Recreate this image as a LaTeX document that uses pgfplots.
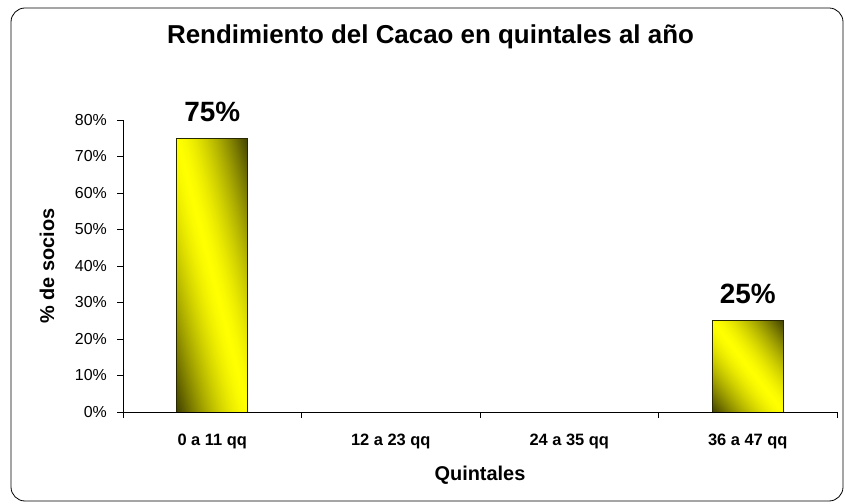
\documentclass[border=0pt]{standalone}
\usepackage{fontspec}
\setmainfont{Liberation Sans}
\usepackage{pgfplots}
\pgfplotsset{compat=1.18}
\definecolor{barEdge}{RGB}{40,40,0}
% diagonal shading: dark at bottom-left and top-right corners, bright yellow along the other diagonal
\pgfdeclarefunctionalshading{cacaobar}{\pgfpoint{0bp}{0bp}}{\pgfpoint{100bp}{100bp}}{}{
  add 100 sub 50 div abs 1.5 exp neg 1 add dup 0 lt {pop 0} if 0.75 mul 0.25 add dup 0
}
\begin{document}
\begin{tikzpicture}
\path[use as bounding box] (0,0) rectangle (845bp,504bp);
\draw[black, line width=0.8bp, rounded corners=14bp] (11bp,3bp) rectangle (843bp,496bp);
\begin{axis}[
  at={(123bp,92bp)}, anchor=south west,
  scale only axis, width=714bp, height=292bp,
  xmin=-0.5, xmax=3.5, ymin=0, ymax=80,
  axis x line=bottom, axis y line=left,
  axis line style={-, black, line width=0.8bp},
  /pgf/number format/assume math mode=true,
  tick align=outside,
  major tick length=5.5bp,
  tick style={black, line width=0.8bp},
  xtick={-0.5,0.5,1.5,2.5,3.5},
  xticklabels={},
  extra x ticks={0,1,2,3},
  extra x tick labels={0 a 11 qq, 12 a 23 qq, 24 a 35 qq, 36 a 47 qq},
  extra x tick style={major tick length=0pt,
    xticklabel style={anchor=base, inner sep=0pt, yshift=-33bp,
      font=\bfseries\fontsize{16.5}{16.5}\selectfont}},
  ytick={0,10,20,30,40,50,60,70,80},
  yticklabels={0\%,10\%,20\%,30\%,40\%,50\%,60\%,70\%,80\%},
  yticklabel style={anchor=east, inner sep=0pt, xshift=-10.5bp,
    font=\fontsize{16}{16}\selectfont},
  title={Rendimiento del Cacao en quintales al año},
  title style={at={(axis description cs:0.4307,1.2432)}, anchor=base,
    yshift=0pt, inner sep=0pt, font=\bfseries\fontsize{26}{26}\selectfont},
  xlabel={Quintales},
  xlabel style={at={(axis description cs:0.5,-0.2329)}, anchor=base,
    inner sep=0pt, font=\bfseries\fontsize{20}{20}\selectfont},
  ylabel={\% de socios},
  ylabel style={at={(axis description cs:-0.1064,0.5)}, anchor=center,
    inner sep=0pt, font=\bfseries\fontsize{20}{20}\selectfont},
  ybar, bar width=71bp, bar shift=0pt,
  nodes near coords={\pgfmathprintnumber{\pgfplotspointmeta}\%},
  every node near coord/.append style={anchor=base, inner sep=0pt,
    yshift=17bp, text=black, font=\bfseries\fontsize{28}{28}\selectfont},
  barstyle/.style={draw=barEdge, line width=0.8bp, shade, shading=cacaobar},
]
\addplot[barstyle] coordinates {(0,75)};
\addplot[barstyle] coordinates {(3,25)};
\end{axis}
\end{tikzpicture}
\end{document}
